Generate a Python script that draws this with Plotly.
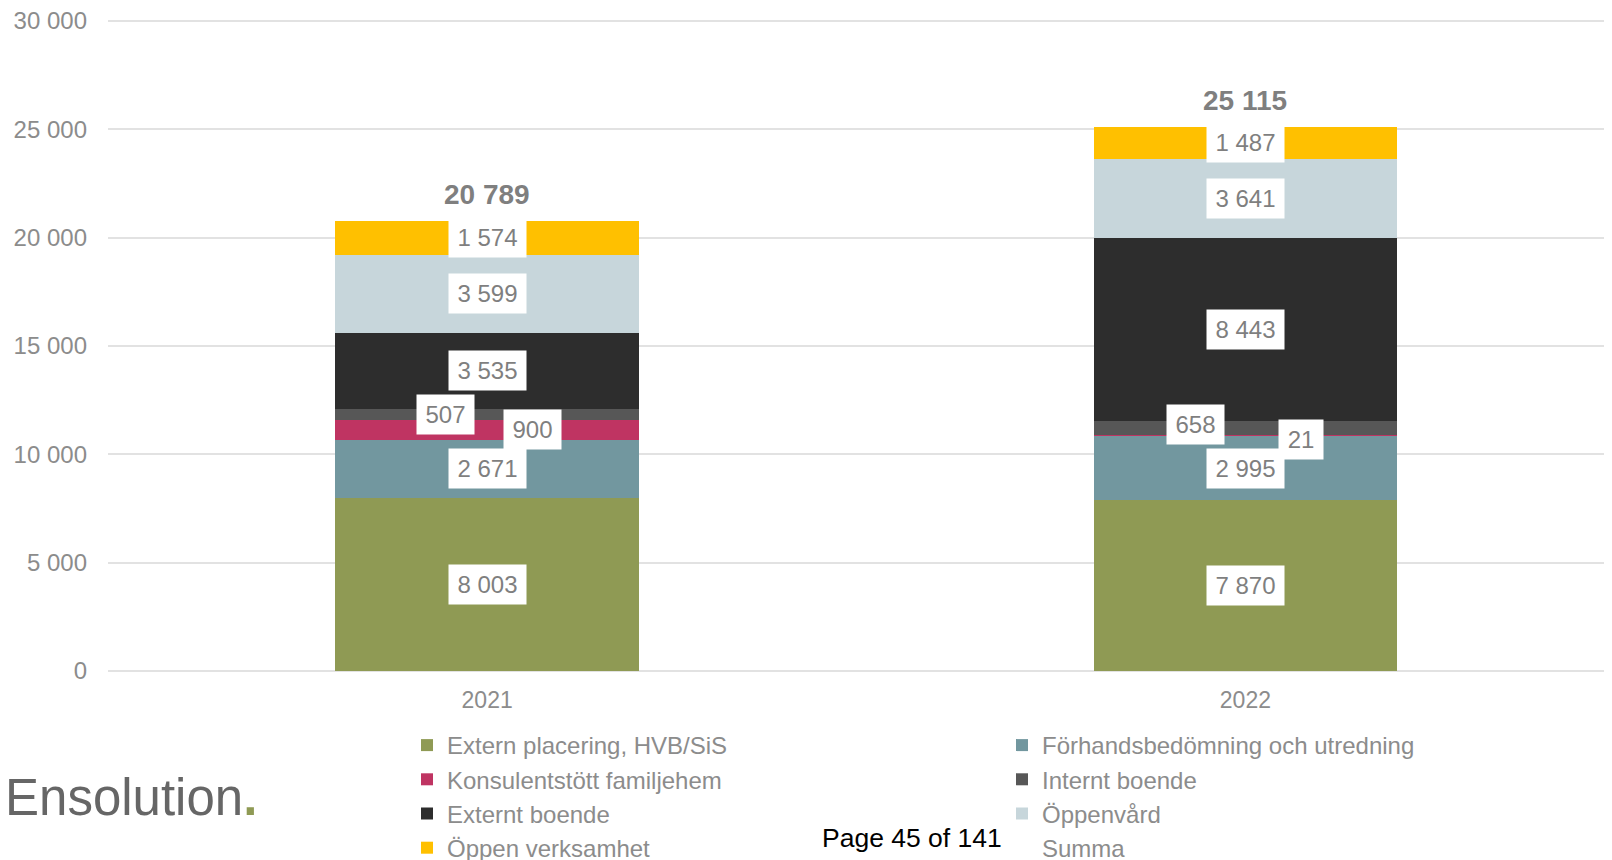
import plotly.graph_objects as go

# ---------------- data ----------------
years = ["2021", "2022"]
extern_placering = [8003, 7870]
forhandsbedomning = [2671, 2995]
konsulentstott = [900, 21]
internt_boende = [507, 658]
externt_boende = [3535, 8443]
oppenvard = [3599, 3641]
oppen_verksamhet = [1574, 1487]

series_names = [
    "Extern placering, HVB/SiS",
    "Förhandsbedömning och utredning",
    "Konsulentstött familjehem",
    "Internt boende",
    "Externt boende",
    "Öppenvård",
    "Öppen verksamhet",
]
series_values = [extern_placering, forhandsbedomning, konsulentstott,
                 internt_boende, externt_boende, oppenvard, oppen_verksamhet]
series_colors = ["#8f9a54", "#72979f", "#bf3462", "#575757", "#2d2d2d", "#c7d6db", "#ffc000"]
series_legend = ["legend", "legend2", "legend", "legend2", "legend", "legend2", "legend"]
totals = [sum(v[i] for v in series_values) for i in range(len(years))]
y_ticks = [0, 5000, 10000, 15000, 20000, 25000, 30000]

# pixel offsets for crowded labels (style only)
label_shift = {
    (3, 0): (-42, 0), (2, 0): (45, 0),
    (3, 1): (-50, 4), (2, 1): (56, -4),
}

OFF = 8                      # browser body margin
W, H = 1612 - OFF, 860 - OFF
ML, MR = 108 - OFF, 0
PLOT_TOP_30K = 21 - OFF      # y of the 30 000 grid line (figure px)
PLOT_BOTTOM = 671 - OFF      # y of the 0 line (figure px)
MT = PLOT_TOP_30K - 4
MB = H - PLOT_BOTTOM
PW, PH = W - ML - MR, H - MT - MB
y_top = 30000 * PH / (PLOT_BOTTOM - PLOT_TOP_30K)

def px2paper(page_x, page_y):
    x, y = page_x - OFF, page_y - OFF
    return (x - ML) / PW, (H - MB - y) / PH

def fmt(v):
    return f"{v:,}".replace(",", " ")

def text_w(s, size=24):
    return sum(0.278 if ch == " " else 0.556 for ch in s) * size

fig = go.Figure()
for name, vals, col, leg in zip(series_names, series_values, series_colors, series_legend):
    fig.add_trace(go.Bar(
        x=years, y=vals, name=name, legend=leg,
        marker=dict(color=col, line=dict(width=0)),
        width=0.4, hoverinfo="skip",
    ))

# legend-only "Summa" entry
fig.add_trace(go.Scatter(
    x=years, y=totals, mode="markers", name="Summa", legend="legend2",
    marker=dict(color="rgba(0,0,0,0)", size=1), hoverinfo="skip",
))

annotations = []
for i, yr in enumerate(years):
    base = 0
    for s, vals in enumerate(series_values):
        v = vals[i]
        xs, ys = label_shift.get((s, i), (0, 0))
        t = fmt(v)
        annotations.append(dict(
            x=i, y=base + v / 2, xref="x", yref="y", text=t, showarrow=False,
            font=dict(family="Liberation Sans, Arial", size=24, color="#7f7f7f"),
            bgcolor="#ffffff", borderpad=6, width=round(text_w(t)) + 5,
            xshift=xs, yshift=ys, xanchor="center", yanchor="middle",
        ))
        base += v
    annotations.append(dict(
        x=i, y=totals[i], xref="x", yref="y", text="<b>" + fmt(totals[i]) + "</b>",
        showarrow=False, yshift=26, yanchor="middle",
        font=dict(family="Liberation Sans, Arial", size=28, color="#7f7f7f"),
    ))

# logo and page footer
lx, ly = px2paper(3, 797)
annotations.append(dict(
    x=lx, y=ly, xref="paper", yref="paper", xanchor="left", yanchor="middle",
    text="Ensolution<span style='color:#8f9a54'><b>.</b></span>", showarrow=False,
    font=dict(family="Liberation Sans Narrow, Liberation Sans, Arial", size=51, color="#666666"),
))
px_, py_ = px2paper(912, 838)
annotations.append(dict(
    x=px_, y=py_, xref="paper", yref="paper", xanchor="center", yanchor="middle",
    text="Page 45 of 141", showarrow=False,
    font=dict(family="Liberation Sans, Arial", size=26.5, color="#000000"),
))

legend_font = dict(family="Liberation Sans, Arial", size=24, color="#8c8c8c")
fig.update_layout(
    width=W, height=H, autosize=False,
    margin=dict(l=ML, r=MR, t=MT, b=MB, autoexpand=False),
    paper_bgcolor="#ffffff", plot_bgcolor="#ffffff",
    barmode="stack", separators=", ",
    annotations=annotations,
    legend=dict(xref="container", yref="container", x=399 / W, y=1 - 715 / H,
                xanchor="left", yanchor="top", traceorder="normal",
                font=legend_font, bgcolor="rgba(0,0,0,0)"),
    legend2=dict(xref="container", yref="container", x=994 / W, y=1 - 715 / H,
                 xanchor="left", yanchor="top", traceorder="normal",
                 font=legend_font, bgcolor="rgba(0,0,0,0)"),
    xaxis=dict(type="category", range=[-0.5, 1.4835], showgrid=False, zeroline=False,
               showline=False, ticks="", ticklabelstandoff=13,
               tickfont=dict(family="Liberation Sans, Arial", size=23, color="#8c8c8c")),
    yaxis=dict(range=[0, y_top], tickvals=y_ticks, ticklabeloverflow="allow",
               tickformat=",d", showgrid=True, gridcolor="#e2e2e2", gridwidth=2,
               zeroline=True, zerolinecolor="#e2e2e2", zerolinewidth=2, showline=False,
               ticks="", ticklabelstandoff=20,
               tickfont=dict(family="Liberation Sans, Arial", size=24, color="#8c8c8c")),
)

fig.write_html("out.html")
